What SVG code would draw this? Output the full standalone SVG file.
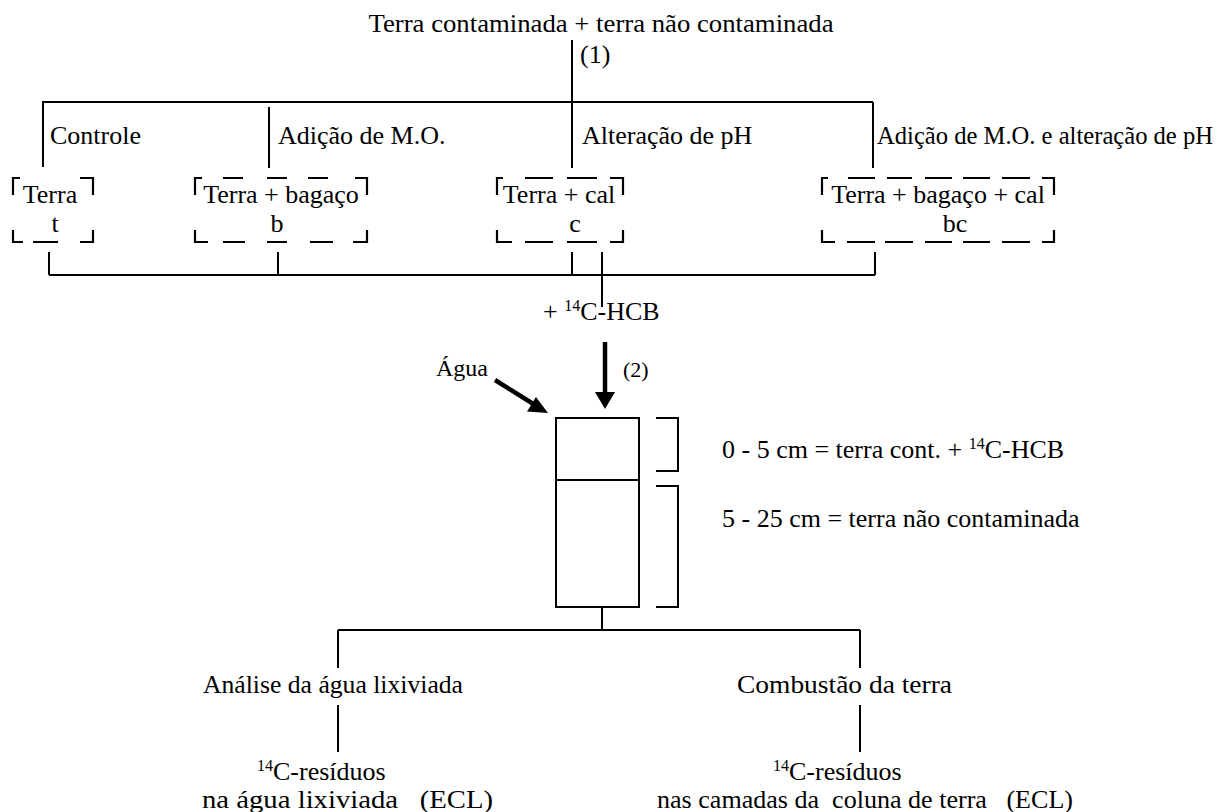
<svg xmlns="http://www.w3.org/2000/svg" width="1223" height="812" viewBox="0 0 1223 812">
<style>
.t{font-family:"Liberation Serif","Times New Roman",serif;font-size:26px;fill:#000}
.s{font-size:16px}
.ln{stroke:#000;stroke-width:2;fill:none}
.bx{stroke:#000;stroke-width:2.2;fill:none}
</style>
<rect width="1223" height="812" fill="#fff"/>
<g id="source">
<text class="t" x="601" y="32" text-anchor="middle" textLength="465" lengthAdjust="spacingAndGlyphs">Terra contaminada + terra não contaminada</text>
<text class="t" x="580" y="63">(1)</text>
</g>
<g id="labels-treatments">
<text class="t" x="50" y="144">Controle</text>
<text class="t" x="278" y="144">Adição de M.O.</text>
<text class="t" x="582" y="144">Alteração de pH</text>
<text class="t" x="877" y="144" style="font-size:24.5px" textLength="336" lengthAdjust="spacingAndGlyphs">Adição de M.O. e alteração de pH</text>
</g>
<g id="box-t">
<path class="bx" d="M20,178H13V195M80,178H93V195M13,230V242H23M33,242H58M80,242H93V230"/>
<text class="t" x="50" y="203" text-anchor="middle">Terra</text>
<text class="t" x="55" y="232" text-anchor="middle">t</text>
</g>
<g id="box-b">
<path class="bx" d="M202,178H195V195M223,178H243M267,178H287M308,178H328M355,178H367V195M195,230V242H208M223,242H245M267,242H287M310,242H333M353,242H367V230"/>
<text class="t" x="281" y="203" text-anchor="middle">Terra + bagaço</text>
<text class="t" x="277" y="232" text-anchor="middle">b</text>
</g>
<g id="box-c">
<path class="bx" d="M503,178H497V195M525,178H553M567,178H597M610,178H623V195M497,230V242H512M525,242H553M567,242H597M610,242H623V230"/>
<text class="t" x="559" y="203" text-anchor="middle">Terra + cal</text>
<text class="t" x="575" y="232" text-anchor="middle">c</text>
</g>
<g id="box-bc">
<path class="bx" d="M828,178H822V195M848,178H875M887,178H912M925,178H952M963,178H990M1002,178H1030M1042,178H1054V195M822,230V242H835M847,242H875M885,242H913M925,242H952M963,242H990M1002,242H1030M1042,242H1054V230"/>
<text class="t" x="938" y="203" text-anchor="middle">Terra + bagaço + cal</text>
<text class="t" x="955" y="232" text-anchor="middle">bc</text>
</g>
<g id="hcb">
<text class="t" x="543" y="320">+ <tspan class="s" dy="-9">14</tspan><tspan dy="9">C-HCB</tspan></text>
<text class="t" x="623" y="377" style="font-size:22px">(2)</text>
</g>
<g id="agua">
<text class="t" x="488" y="376" text-anchor="end" style="font-size:24px">Água</text>
</g>
<g id="column">
<rect class="ln" x="556" y="418" width="83" height="189"/>
<path class="ln" d="M556,480H639"/>
<path class="ln" d="M656,418H678V471H656M656,486H678V607H656"/>
<text class="t" x="722" y="458">0 - 5 cm = terra cont. + <tspan class="s" dy="-9">14</tspan><tspan dy="9">C-HCB</tspan></text>
<text class="t" x="722" y="527">5 - 25 cm = terra não contaminada</text>
</g>
<g id="leachate">
<text class="t" x="203" y="693" textLength="260" lengthAdjust="spacingAndGlyphs">Análise da água lixiviada</text>
<text class="t" x="257" y="780"><tspan class="s" dy="-9">14</tspan><tspan dy="9">C-resíduos</tspan></text>
<text class="t" x="202" y="808" xml:space="preserve" textLength="291" lengthAdjust="spacingAndGlyphs">na água lixiviada   (ECL)</text>
</g>
<g id="combustion">
<text class="t" x="737" y="693" textLength="215" lengthAdjust="spacingAndGlyphs">Combustão da terra</text>
<text class="t" x="773" y="780"><tspan class="s" dy="-9">14</tspan><tspan dy="9">C-resíduos</tspan></text>
<text class="t" x="657" y="808" xml:space="preserve" textLength="416" lengthAdjust="spacingAndGlyphs">nas camadas da  coluna de terra   (ECL)</text>
</g>
<g id="connectors">
<path class="ln" d="M572,40V168M43,102H873M43,101V167M269,107V168M873,102V168"/>
<path class="ln" d="M49,252V275M278,252V275M572,252V275M875,252V275M49,275H875M602,252V307"/>
<path d="M605,342V394" stroke="#000" stroke-width="4.5" fill="none"/>
<path d="M595,392H615L605,409Z" fill="#000"/>
<path d="M495,380L535,405" stroke="#000" stroke-width="4.5" fill="none"/>
<path d="M548,413L527,411.5L536,397Z" fill="#000"/>
<path class="ln" d="M602,607V630M338,630H860M338,630V668M860,630V668M338,705V752M860,705V752"/>
</g>
</svg>
